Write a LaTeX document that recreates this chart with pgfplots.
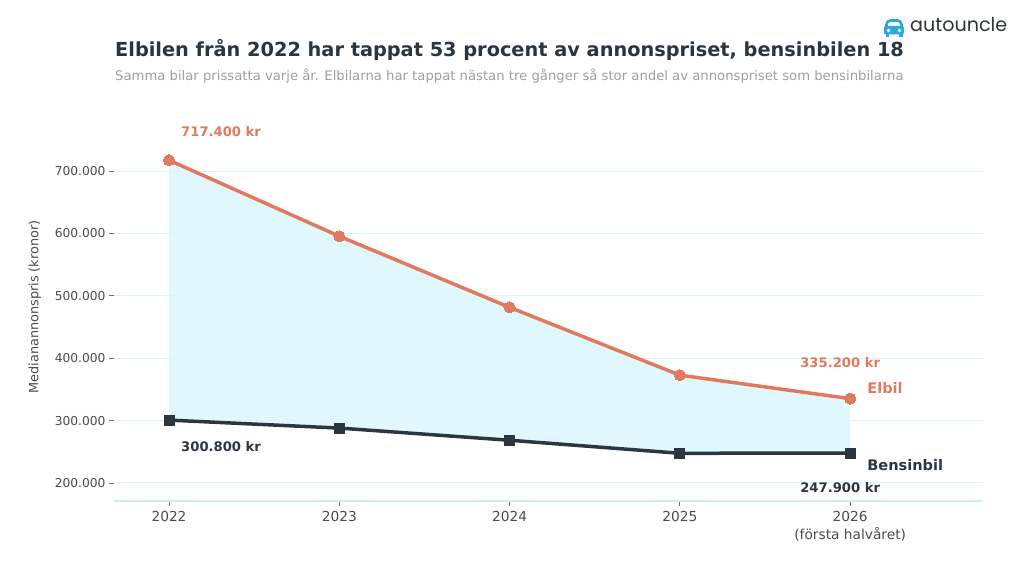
\documentclass[border=0pt]{standalone}
\usepackage{pgfplots}
\pgfplotsset{compat=1.18}
\usepgfplotslibrary{fillbetween}
\usepackage{fontspec}
\setmainfont{DejaVu Sans}
\newfontfamily\logofont{Poppins}
\definecolor{orangec}{HTML}{E07A5F}
\definecolor{darkc}{HTML}{2B3641}
\definecolor{fillc}{HTML}{DDF6FD}
\definecolor{gridc}{HTML}{D9F3FB}
\definecolor{axisc}{HTML}{CDEDF7}
\definecolor{titlec}{HTML}{2B3540}
\definecolor{subc}{HTML}{9A9FA5}
\definecolor{tickc}{HTML}{454C53}
\definecolor{logoc}{HTML}{2AA8D8}
\begin{document}
\begin{tikzpicture}[x=1bp,y=1bp]
\begin{axis}[
  set layers,
  at={(114bp,72bp)}, anchor=south west, scale only axis,
  width=869bp, height=367.4bp,
  xmin=2021.677, xmax=2026.78, ymin=171150, ymax=760000,
  axis x line*=bottom, axis y line*=left,
  x axis line style={draw=axisc, line width=1.2bp},
  y axis line style={draw=none},
  scaled y ticks=false,
  xtick={2022,2023,2024,2025,2026},
  xticklabels={2022,2023,2024,2025,{2026\\(första halvåret)}},
  x tick label style={align=center, font=\fontsize{13.8}{18}\selectfont, text=tickc, yshift=-2bp},
  ytick={200000,300000,400000,500000,600000,700000},
  yticklabels={200.000,300.000,400.000,500.000,600.000,700.000},
  y tick label style={font=\fontsize{12.3}{14}\selectfont, text=tickc},
  ymajorgrids, grid style={draw=gridc, line width=1bp},
  tick align=outside, major tick length=5bp,
  tick style={draw=tickc!80, line width=0.8bp},
  clip=false,
  ylabel={Medianannonspris (kronor)},
  ylabel style={at={(axis description cs:-0.091,0.528)}, anchor=center, font=\fontsize{12.9}{14}\selectfont, text=tickc},
]
\addplot[name path=el, draw=orangec, line width=3.5bp, mark=*, mark size=5.6bp, mark options={fill=orangec, draw=orangec, line width=0pt}]
  coordinates {(2022,717400) (2023,595500) (2024,481500) (2025,372800) (2026,335200)};
\addplot[name path=be, draw=darkc, line width=3.5bp, mark=square*, mark size=5bp, mark options={fill=darkc, draw=darkc, line width=0pt}]
  coordinates {(2022,300800) (2023,288000) (2024,268500) (2025,247600) (2026,247900)};
\addplot[fillc, fill opacity=0.9] fill between[of=el and be];
\node[anchor=west, inner sep=0pt, text=orangec, font=\bfseries\fontsize{13.2}{15}\selectfont, xshift=12bp, yshift=29bp] at (axis cs:2022,717400) {717.400 kr};
\node[anchor=west, inner sep=0pt, text=darkc, font=\bfseries\fontsize{13.2}{15}\selectfont, xshift=12bp, yshift=-26bp] at (axis cs:2022,300800) {300.800 kr};
\node[anchor=center, inner sep=0pt, text=orangec, font=\bfseries\fontsize{13.2}{15}\selectfont, xshift=-10bp, yshift=36bp] at (axis cs:2026,335200) {335.200 kr};
\node[anchor=center, inner sep=0pt, text=darkc, font=\bfseries\fontsize{13.2}{15}\selectfont, xshift=-10bp, yshift=-34bp] at (axis cs:2026,247900) {247.900 kr};
\node[anchor=west, inner sep=0pt, text=orangec, font=\bfseries\fontsize{14.6}{17}\selectfont, xshift=17bp, yshift=11bp] at (axis cs:2026,335200) {Elbil};
\node[anchor=west, inner sep=0pt, text=darkc, font=\bfseries\fontsize{14.6}{17}\selectfont, xshift=17bp, yshift=-12bp] at (axis cs:2026,247900) {Bensinbil};
\end{axis}
\node[anchor=base west, inner sep=0pt, text=titlec, font=\bfseries\fontsize{19.4}{22}\selectfont] at (115,516) {Elbilen från 2022 har tappat 53 procent av annonspriset, bensinbilen 18};
\node[anchor=base west, inner sep=0pt, text=subc, font=\fontsize{13.25}{15}\selectfont] at (115,492) {Samma bilar prissatta varje år. Elbilarna har tappat nästan tre gånger så stor andel av annonspriset som bensinbilarna};
% logo
\draw[logoc, line width=2.6bp, rounded corners=4bp] (886.5,544) -- (886.5,552.5) -- (901.5,552.5) -- (901.5,544);
\fill[logoc, rounded corners=2bp] (884,538.5) rectangle (904,547);
\fill[white] (888.5,542.5) circle (1.8bp);
\fill[white] (899.5,542.5) circle (1.8bp);
\fill[logoc] (885.5,535.5) rectangle (889,539);
\fill[logoc] (899,535.5) rectangle (902.5,539);
\node[anchor=west, inner sep=0pt, text=titlec, font=\logofont\fontsize{19.2}{20}\selectfont] at (910,548) {autouncle};
\pgfresetboundingbox
\path[use as bounding box] (0,0) rectangle (1024,573);
\end{tikzpicture}
\end{document}
